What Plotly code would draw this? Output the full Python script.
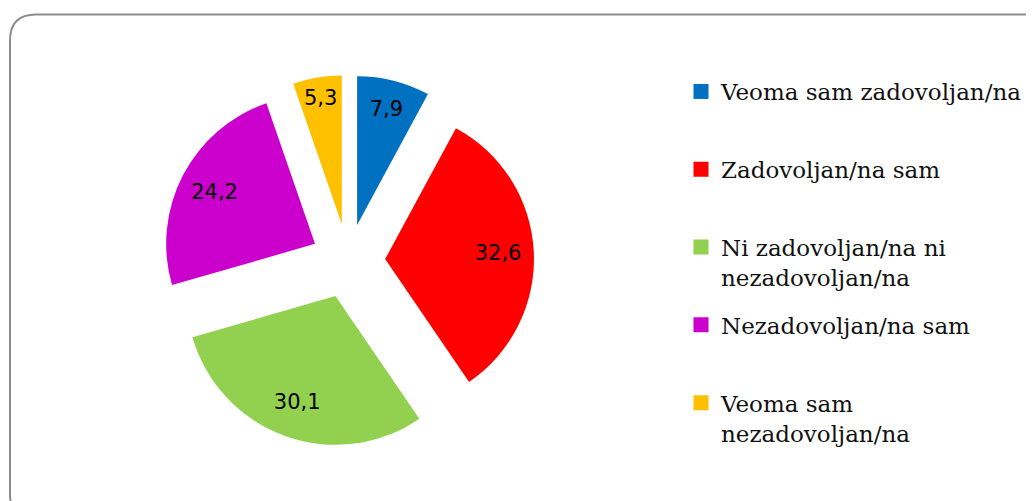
import plotly.graph_objects as go

# ---- data ----
categories = [
    "Veoma sam zadovoljan/na",
    "Zadovoljan/na sam",
    "Ni zadovoljan/na ni nezadovoljan/na",
    "Nezadovoljan/na sam",
    "Veoma sam nezadovoljan/na",
]
legend_labels = [
    "Veoma sam zadovoljan/na",
    "Zadovoljan/na sam",
    "Ni zadovoljan/na ni<br>nezadovoljan/na",
    "Nezadovoljan/na sam",
    "Veoma sam<br>nezadovoljan/na",
]
values = [7.9, 32.6, 30.1, 24.2, 5.3]
value_text = ["7,9", "32,6", "30,1", "24,2", "5,3"]
colors = ["#0070C0", "#FF0000", "#92D050", "#CC00CC", "#FFC000"]

# figure size (the page body adds an 8px margin in the 1034x501 window)
W, H = 1026, 493
OFF = 8


def px(x):
    """screen x (window pixels) -> paper fraction"""
    return (x - OFF) / W


def py(y):
    """screen y (window pixels) -> paper fraction"""
    return 1 - (y - OFF) / H


pie_domain = dict(x=[px(162), px(534)], y=[py(447), py(75)])
PULL = 0.25

fig = go.Figure()

# coloured, exploded slices
fig.add_trace(go.Pie(
    labels=categories,
    values=values,
    textinfo="none",
    sort=False,
    direction="clockwise",
    rotation=0,
    pull=PULL,
    marker=dict(colors=colors, line=dict(width=0)),
    showlegend=False,
    domain=pie_domain,
    hoverinfo="label+value",
))

# same slices, transparent, used to place the value labels further out
fig.add_trace(go.Pie(
    labels=categories,
    values=values,
    text=value_text,
    textinfo="text",
    textposition="inside",
    insidetextorientation="horizontal",
    sort=False,
    direction="clockwise",
    rotation=0,
    pull=PULL,
    hole=0.52,
    marker=dict(colors=["rgba(0,0,0,0)"] * len(values), line=dict(width=0)),
    textfont=dict(family="DejaVu Sans", size=21, color="black"),
    showlegend=False,
    domain=pie_domain,
    hoverinfo="skip",
))

# legend entries (one legend per entry so spacing matches the original)
first_line_y = 91
slot = 77.8
layout_legends = {}
for i, (lab, col) in enumerate(zip(legend_labels, colors)):
    lname = "legend" if i == 0 else f"legend{i + 1}"
    fig.add_trace(go.Scatter(
        x=[None], y=[None], mode="markers",
        marker=dict(symbol="square", size=15, color=col),
        name=lab, legend=lname, showlegend=True, hoverinfo="skip",
    ))
    layout_legends[lname] = dict(
        x=px(681), xanchor="left",
        y=py(first_line_y + i * slot - 21), yanchor="top",
        valign="top",
        bgcolor="rgba(0,0,0,0)",
        font=dict(family="DejaVu Serif", size=23, color="#111111"),
        itemclick=False, itemdoubleclick=False,
    )

# rounded border (screen coordinates)
x0, y0, x1, y1, r = 10, 14.5, 1052, 520, 26
path = (
    f"M {px(x0)},{py(y0 + r)} "
    f"Q {px(x0)},{py(y0)} {px(x0 + r)},{py(y0)} "
    f"L {px(x1 - r)},{py(y0)} "
    f"Q {px(x1)},{py(y0)} {px(x1)},{py(y0 + r)} "
    f"L {px(x1)},{py(y1 - r)} "
    f"Q {px(x1)},{py(y1)} {px(x1 - r)},{py(y1)} "
    f"L {px(x0 + r)},{py(y1)} "
    f"Q {px(x0)},{py(y1)} {px(x0)},{py(y1 - r)} Z"
)

fig.update_layout(
    width=W, height=H,
    margin=dict(l=0, r=0, t=0, b=0),
    paper_bgcolor="white",
    plot_bgcolor="white",
    xaxis=dict(visible=False),
    yaxis=dict(visible=False),
    uniformtext=dict(minsize=21, mode="show"),
    shapes=[dict(type="path", path=path, xref="paper", yref="paper",
                 line=dict(color="#8c8c8c", width=2), layer="below")],
    **layout_legends,
)

fig.write_html("out.html")
